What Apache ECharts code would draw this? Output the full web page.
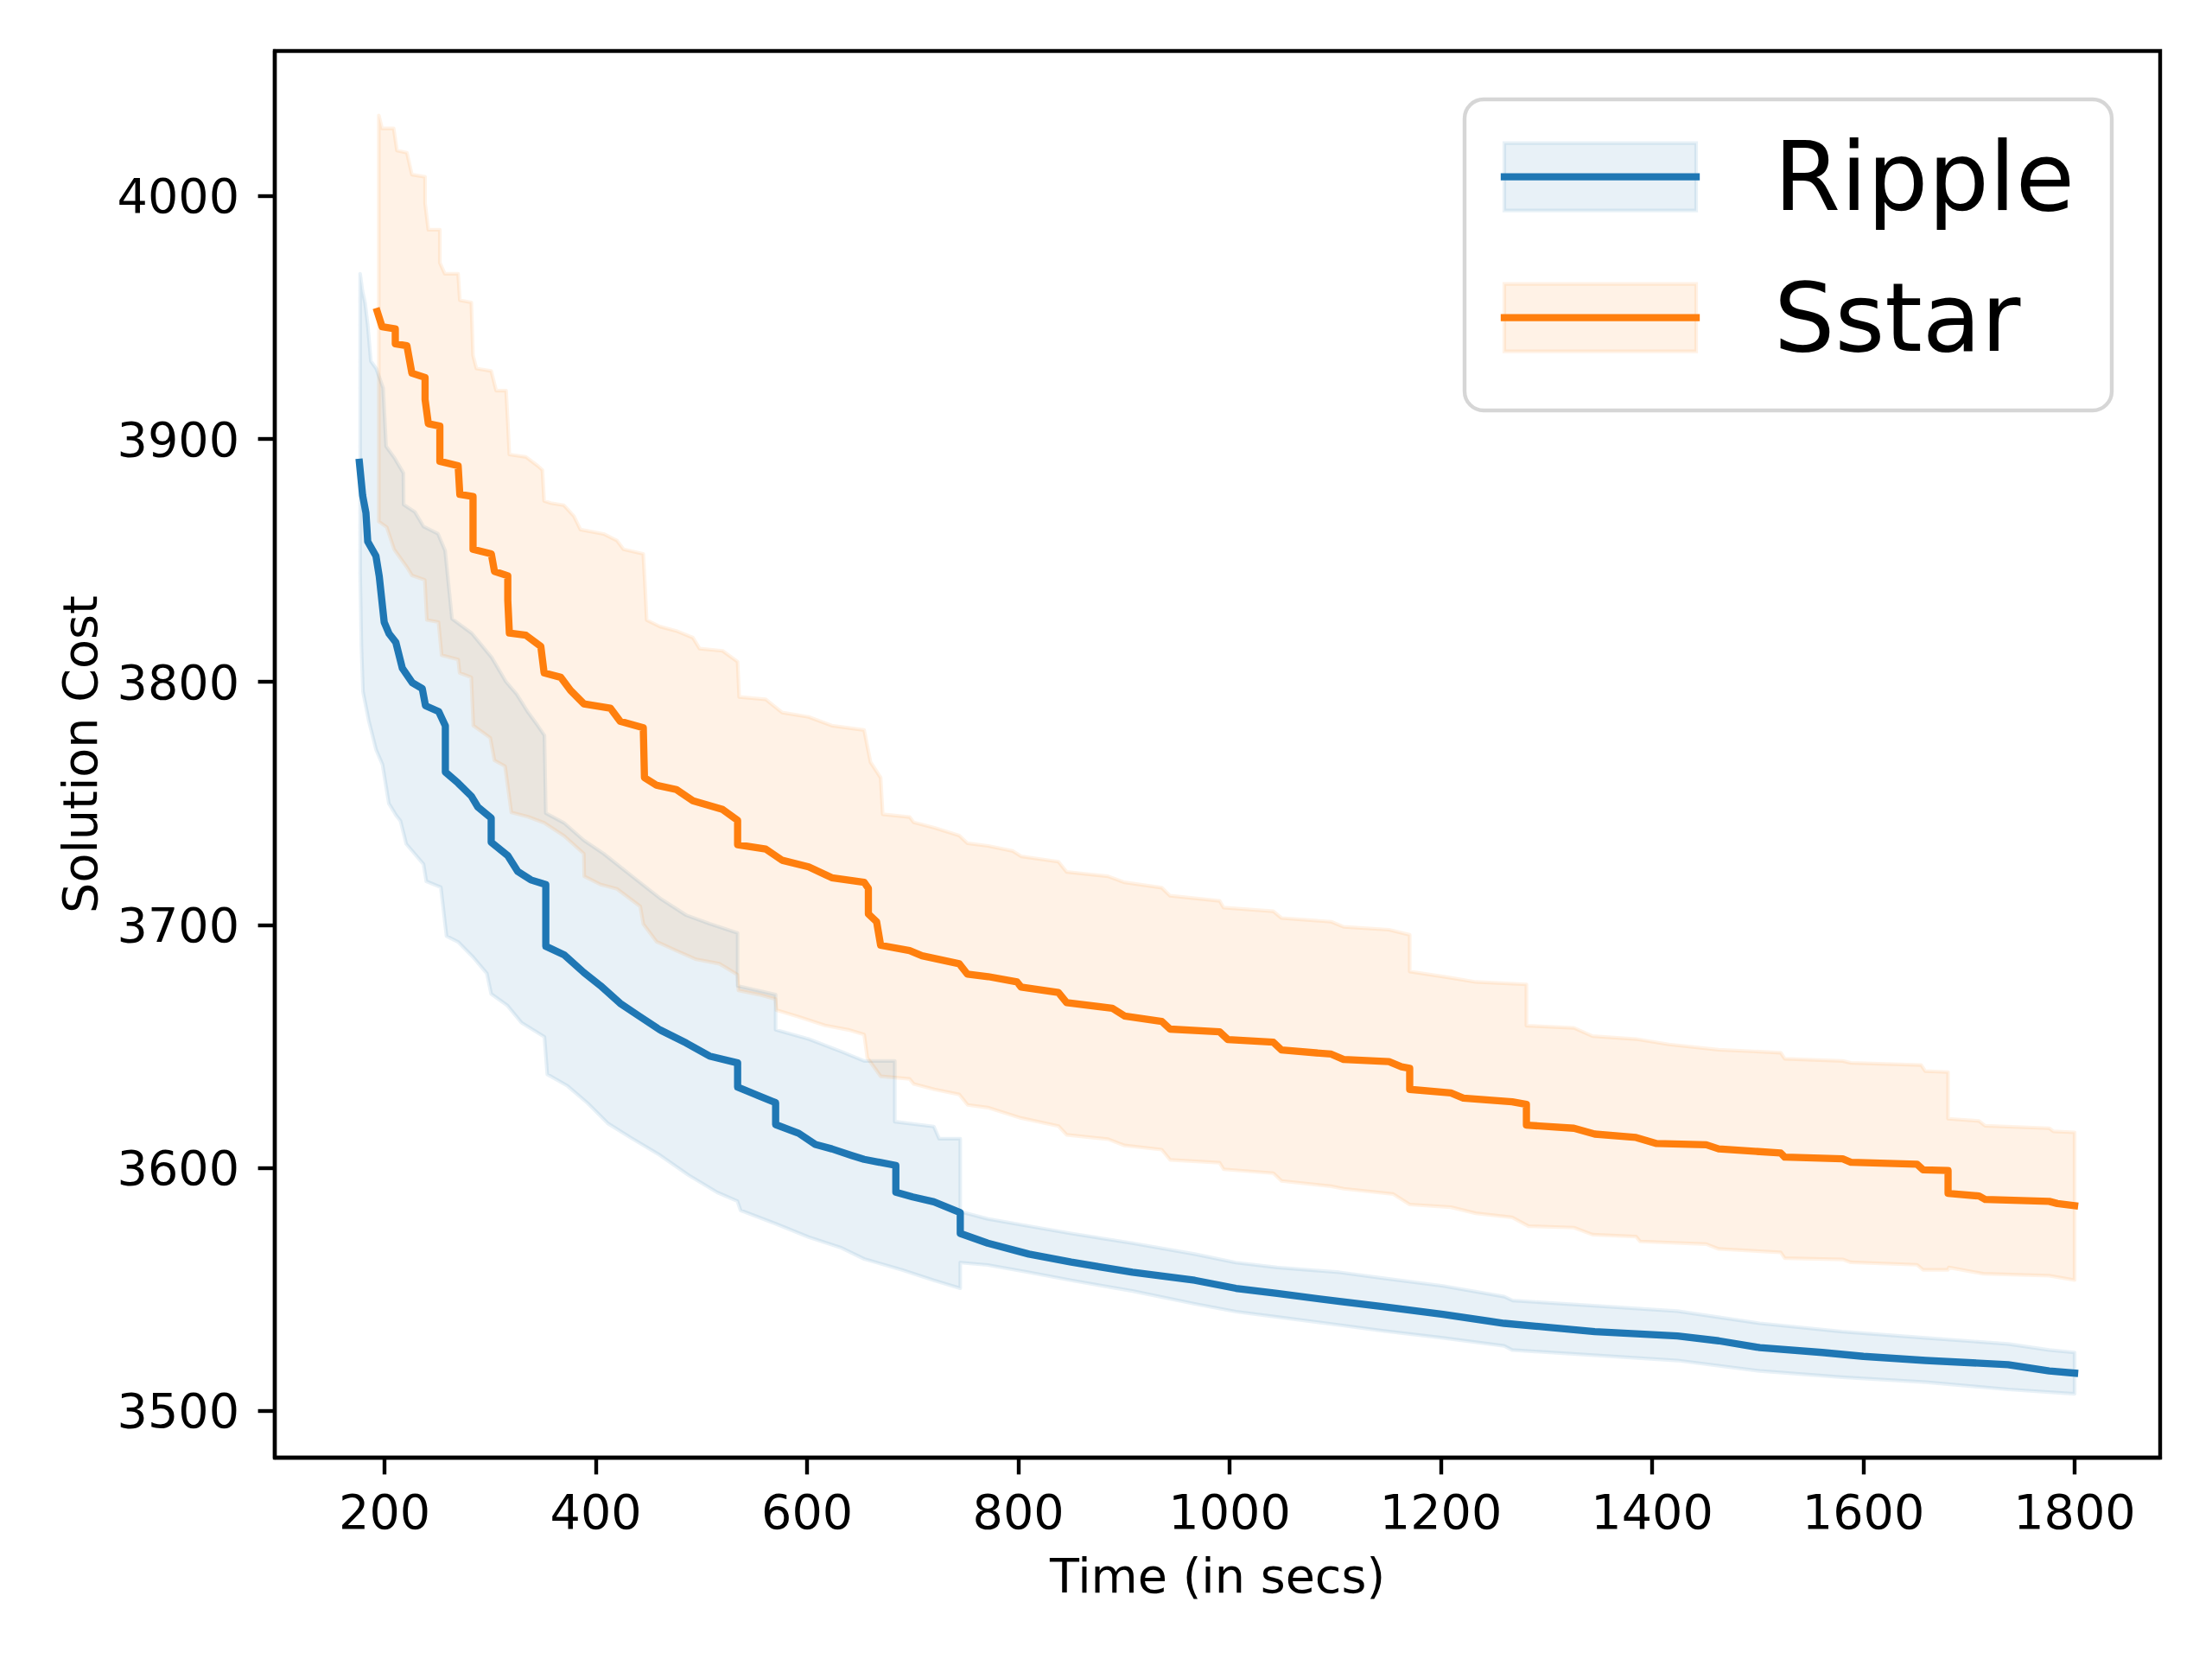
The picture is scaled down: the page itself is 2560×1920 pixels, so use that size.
<!DOCTYPE html>
<html>
<head>
<meta charset="utf-8">
<script src="https://cdn.jsdelivr.net/npm/echarts@6/dist/echarts.min.js"></script>
<style>
html,body{margin:0;padding:0;background:#fff;}
#chart{width:2560px;height:1920px;}
</style>
</head>
<body>
<div id="chart"></div>
<script>
// ---- Data (time in secs, solution cost) ----
const xTicks = [200, 400, 600, 800, 1000, 1200, 1400, 1600, 1800];
const yTicks = [3500, 3600, 3700, 3800, 3900, 4000];
const seriesNames = ['Ripple', 'Sstar'];

const rippleMean = [
  [176.1,3890.4],[179.2,3876.7],[182.3,3869.6],[184,3857.8],[191.8,3851.8],[194.9,3843.5],[199.6,3824.6],
  [204.3,3819.8],[210.6,3816.3],[216.8,3805.6],[226.2,3799.7],[235.6,3797.3],[238.7,3790.2],[251.2,3787.8],
  [257.5,3781.9],[257.5,3762.9],[269.5,3758.4],[282.1,3753],[288.3,3748.5],[300.9,3744],[300.9,3734],
  [316.6,3728.5],[326,3722],[338.5,3718.5],[352.6,3716.6],[352.6,3691.2],[369.8,3687.7],[388.6,3680.4],
  [404.3,3675],[423,3667.7],[441.8,3662.2],[460.6,3656.8],[485.5,3651.4],[507.6,3646],[534.2,3643.2],
  [534.2,3633.2],[554.5,3629.6],[570.2,3626.8],[570.2,3617.8],[592.1,3614.2],[607.8,3609.6],[623.4,3607.8],
  [642.1,3605.1],[654,3603.5],[684,3601],[684,3590],[700,3588],[720,3586],[745,3581.6],[745,3573],
  [771,3569],[810,3564.5],[850,3561.2],[908,3557],[967,3553.7],[1006,3550.4],[1045,3548.3],[1104,3545],
  [1143,3543],[1202,3539.7],[1260,3536],[1345.7,3532.6],[1424,3530.8],[1463,3528.8],[1502,3526],
  [1561,3524],[1600,3522.4],[1659,3520.7],[1737,3519],[1776,3516.4],[1800,3515.5]
];
const rippleUpper = [
  [176.8,3968],[179,3961],[181.5,3956],[184,3947],[187,3932],[192,3929],[198.6,3921],[201.4,3897],
  [209.6,3892],[212.3,3890],[217.8,3886],[218,3873],[228.6,3870],[236.8,3864],[250.5,3861],[257.3,3854],
  [263.8,3826],[282.6,3820],[301.5,3810],[315,3800],[325,3795],[335,3788],[345,3782],[351.3,3778],
  [352.6,3746],[369.8,3742],[388.6,3734.8],[407.4,3729.3],[438.7,3718.5],[460.6,3711],[485.5,3704],
  [507.6,3700.5],[534.2,3696.7],[534.2,3674.9],[570.2,3671.3],[570.2,3656.8],[601.5,3653],[632.7,3647.8],
  [654,3644],[683,3644],[683,3619],[720,3617],[725,3612],[745,3612],[745,3582],[771,3579],[810,3576],
  [850,3573],[908,3569],[967,3564.5],[1006,3561],[1045,3559],[1104,3557],[1143,3554.7],[1202,3551.4],
  [1260,3547],[1268,3545.4],[1424,3541],[1502,3536],[1580,3532.6],[1659,3530],[1737,3527.5],[1776,3525],
  [1800,3524]
];
const rippleLower = [
  [176.8,3845],[178,3815],[179.5,3796],[185,3784],[188.5,3778],[192,3772],[198,3766],[204,3750],[211,3745],
  [215,3742.8],[220.5,3733.3],[236.8,3725],[239.5,3717.9],[253.2,3715.5],[258.6,3695.4],[269.5,3693],
  [283.2,3687],[296.8,3680],[300.9,3671.6],[316,3666.9],[329.5,3659.8],[351.3,3653.9],[354,3638.5],
  [373.2,3633.7],[392.2,3626.6],[411.3,3618.3],[433.1,3612.4],[460.4,3605.3],[487.7,3597],[514.9,3589.9],
  [534,3586.3],[537,3582.5],[570.2,3577],[601.5,3571.5],
  [632.7,3567],[654,3562.5],[690,3558],[720,3553.7],[745,3550.4],[745,3561],[771,3560],[810,3557],
  [850,3553.7],[908,3549.3],[967,3544],[1006,3540.8],[1045,3538.6],[1104,3535.3],[1143,3533],[1202,3530],
  [1260,3526.7],[1267.5,3525],[1424,3520.7],[1502,3516.4],[1580,3513.8],[1659,3511.8],[1737,3508.8],
  [1800,3507]
];

const sstarMean = [
  [193,3952.5],[197.6,3946.2],[210.1,3945.3],[210.1,3939.2],[221.1,3938.4],[225.8,3927.1],[238.3,3925.3],
  [238.3,3916.3],[241.4,3906.3],[252.3,3905.3],[252.3,3890.8],[269.6,3889],[271.2,3877.2],[283.7,3876.3],
  [283.7,3854.6],[301,3852.7],[304,3845.5],[316.6,3843.7],[316.6,3833.7],[318.1,3820.1],[333.8,3819.2],
  [347.9,3814.6],[351,3803.7],[366.7,3801.9],[376,3796.5],[388.6,3791],[413.7,3789.2],[423,3783.8],
  [444.9,3781.1],[446,3760.6],[457.4,3757.5],[476.2,3755.7],[491.9,3751.1],[520,3747.5],[534.2,3743],
  [534.2,3733],[560.8,3731.2],[576.4,3726.6],[601.5,3723.9],[623.4,3719.4],[654,3717.5],[658,3715],
  [658,3704.5],[665.8,3701.3],[669.6,3691.6],[697,3689.4],[708.8,3687.3],[744,3684],[751.8,3679.7],
  [771.4,3678.7],[798.8,3676.5],[802.6,3674.4],[837.9,3672.2],[845.7,3668],[888.8,3665.7],[900.5,3662.5],
  [935.7,3660.3],[943.6,3657.1],[990.5,3656],[998.4,3652.8],[1041.4,3651.7],[1049.2,3648.5],[1096.2,3646.8],
  [1107.9,3644.6],[1150.9,3643.7],[1162.7,3641.6],[1170.5,3641],[1170.5,3632.3],[1209.5,3630.8],
  [1221.3,3628.7],[1267.5,3627.2],[1281,3626.1],[1281,3617.6],[1326,3616.3],[1345.7,3613.9],[1384.8,3612.5],
  [1404.3,3610],[1451.3,3609.5],[1463,3607.8],[1521.7,3606.1],[1525.6,3604.4],[1580.4,3603.7],[1588.2,3602.3],
  [1650.8,3601.5],[1656.6,3599.2],[1680.2,3598.9],[1680.2,3589.5],[1709.5,3588.4],[1715.3,3587],
  [1776,3586.2],[1783.7,3585.3],[1800,3584.4]
];
const sstarUpper = [
  [194.5,4033.2],[197.6,4027.8],[208.6,4027.8],[211.7,4018.7],[221.1,4017.8],[225.8,4008.8],[238.3,4007.9],
  [238.3,3997],[241.4,3986.1],[252.3,3986.1],[252.3,3972.5],[257,3968],[269.6,3968],[271.2,3957.1],
  [282.1,3956.2],[283.7,3934.4],[286.9,3929],[300.9,3928],[305.6,3919.9],[315,3919.9],[316.6,3907.1],
  [318.1,3893.6],[333.8,3892.6],[344.8,3889],[349.4,3887.2],[351,3874.5],[357.3,3873.6],[369.8,3872.7],
  [379.2,3868.2],[385.4,3862.7],[407.4,3860.9],[419.9,3858.2],[426.2,3854.6],[444.9,3852.7],[446.5,3840],
  [448.1,3825.5],[460.6,3822.8],[476.2,3821],[491.9,3818.2],[498.2,3813.7],[520,3812.8],[534.2,3808.3],
  [535.7,3793.8],[560.8,3792.8],[576.4,3787.4],[601.5,3785.6],[623.4,3782],[654,3780.2],[660,3767],
  [669.6,3760.6],[671.6,3745.5],[697,3744.4],[700.9,3742.2],[720.5,3740],[744,3736.8],[751.8,3733.6],
  [771.4,3732.5],[794.8,3730.4],[802.6,3728.2],[837.9,3726],[845.7,3721.8],[884.8,3720],[900.5,3717.5],
  [935.7,3715.3],[943.6,3712],[990.5,3709.9],[994.3,3707.1],[1041.4,3705.6],[1049.2,3702.8],[1096.2,3701.3],
  [1107.9,3699.2],[1150.9,3698],[1170.5,3695.9],[1170.5,3680.8],[1209.5,3678.2],[1233,3676.5],[1281,3675.5],
  [1281,3658.5],[1326,3657.6],[1343.6,3654.2],[1384.8,3653],[1416,3650.8],[1463,3648.6],[1521.7,3647.4],
  [1525.6,3644.9],[1580.4,3644],[1588.2,3643.2],[1654.7,3642.3],[1658.6,3639.8],[1680.2,3639.4],
  [1680.2,3620.2],[1709.5,3619.3],[1715.3,3617.3],[1776,3616.3],[1780,3615],[1800,3614.6]
];
const sstarLower = [
  [194.5,3866],[202,3863.7],[209,3854.6],[221,3847.3],[226,3843.8],[238,3842],[240,3825.5],[251,3824.6],
  [254,3811],[269.6,3809.2],[271,3803.7],[282,3801.9],[284,3782],[300,3777],[304,3767.7],[314,3765.3],
  [320,3746.3],[335.8,3744.5],[351,3742],[370,3736.6],[388.6,3729.3],[389,3720],[404,3716.7],[420,3714.8],
  [442,3707.6],[445,3700.3],[457.4,3693.1],[476,3689.4],[495,3685.8],[517,3684],[534,3679.5],[535,3673],
  [554.5,3671.3],[570,3669.5],[571,3664.9],[592,3662.2],[617,3658.6],[639,3656.8],[654,3654.9],[657,3645.3],
  [669.6,3637.7],[697,3636.6],[701,3634.5],[720.5,3632.3],[744,3630.2],[752,3625.9],[771,3624.8],
  [802.6,3620.5],[838,3617.2],[845.7,3613.6],[885,3611.8],[900.5,3609.2],[935.7,3607.5],[943.6,3603.3],
  [990.5,3602.1],[994.3,3599.4],[1041.4,3597.8],[1049.2,3594.6],[1096.2,3592.4],[1108,3591.4],[1155,3589.2],
  [1170.5,3584.9],[1209.5,3583.8],[1233,3581.3],[1267.5,3579.6],[1283,3576],[1326,3575.4],[1343.6,3572.5],
  [1384.8,3571.7],[1388.6,3569.7],[1451.3,3568.6],[1463,3566.6],[1521.7,3565.2],[1525.6,3562.8],
  [1580.4,3562.3],[1588.2,3561.1],[1650.8,3560.1],[1656.6,3558],[1680,3558],[1681,3559],[1713.5,3556.4],
  [1776,3555.6],[1800,3553.8]
];

// ---- Styling ----
const BLUE = '#1f77b4', ORANGE = '#ff7f0e';
const BLUE_FILL = 'rgba(31,119,180,0.1)', ORANGE_FILL = 'rgba(255,127,14,0.1)';
const FONT = 'DejaVu Sans';
const TICK_FS = 55.6, LEG_FS = 111;

function bandRenderer(upper, lower, color) {
  return function (params, api) {
    const pts = upper.map(p => api.coord(p))
      .concat(lower.slice().reverse().map(p => api.coord(p)));
    return {
      type: 'polygon',
      shape: { points: pts },
      style: { fill: color, stroke: color, lineWidth: 4.2, lineJoin: 'round' },
      silent: true
    };
  };
}

const chart = echarts.init(document.getElementById('chart'), null, { renderer: 'svg', width: 2560, height: 1920 });

const legendX = 1695, legendY = 115, legendW = 749, legendH = 360;
const rows = [204.7, 367.7];
const legendGraphics = [
  { type: 'rect', shape: { x: legendX, y: legendY, width: legendW, height: legendH, r: 22 },
    style: { fill: 'rgba(255,255,255,0.8)', stroke: 'rgba(204,204,204,0.8)', lineWidth: 4.4 }, z: 100 }
];
[[BLUE, BLUE_FILL], [ORANGE, ORANGE_FILL]].forEach(([c, f], i) => {
  const cy = rows[i];
  legendGraphics.push(
    { type: 'rect', shape: { x: 1741, y: cy - 39, width: 222, height: 78 },
      style: { fill: f, stroke: f, lineWidth: 4.2 }, z: 101 },
    { type: 'line', shape: { x1: 1741, y1: cy, x2: 1963, y2: cy },
      style: { stroke: c, lineWidth: 8.33, lineCap: 'square' }, z: 102 },
    { type: 'text', x: 2053, y: cy,
      style: { text: seriesNames[i], fontSize: LEG_FS, fontFamily: FONT, fill: '#000',
               align: 'left', verticalAlign: 'middle' }, z: 102 }
  );
});

const plain = v => String(v);

const option = {
  animation: false,
  backgroundColor: '#fff',
  textStyle: { fontFamily: FONT, color: '#000' },
  grid: { left: 318, right: 60, top: 59, bottom: 233, show: true, borderColor: '#000', borderWidth: 4.4,
          backgroundColor: 'transparent', containLabel: false, outerBoundsMode: 'none' },
  xAxis: {
    type: 'value', min: 96, max: 1881,
    name: 'Time (in secs)', nameLocation: 'middle', nameGap: 108,
    nameTextStyle: { fontSize: TICK_FS, color: '#000', fontFamily: FONT },
    axisLine: { show: true, lineStyle: { color: '#000', width: 4.4 } },
    axisTick: { show: true, length: 19.4, lineStyle: { color: '#000', width: 4.4 }, customValues: xTicks },
    axisLabel: { show: true, customValues: xTicks, formatter: plain, fontSize: TICK_FS, color: '#000',
                 fontFamily: FONT, margin: 34 },
    splitLine: { show: false }
  },
  yAxis: {
    type: 'value', min: 3480.7, max: 4059.7,
    name: 'Solution Cost', nameLocation: 'middle', nameGap: 198, nameRotate: 90,
    nameTextStyle: { fontSize: TICK_FS, color: '#000', fontFamily: FONT },
    axisLine: { show: true, lineStyle: { color: '#000', width: 4.4 } },
    axisTick: { show: true, length: 19.4, lineStyle: { color: '#000', width: 4.4 }, customValues: yTicks },
    axisLabel: { show: true, customValues: yTicks, formatter: plain, fontSize: TICK_FS, color: '#000',
                 fontFamily: FONT, margin: 41 },
    splitLine: { show: false }
  },
  series: [
    { type: 'custom', name: 'Ripple band', coordinateSystem: 'cartesian2d', z: 1,
      renderItem: bandRenderer(rippleUpper, rippleLower, BLUE_FILL), data: [rippleUpper[0]], silent: true },
    { type: 'custom', name: 'Sstar band', coordinateSystem: 'cartesian2d', z: 1,
      renderItem: bandRenderer(sstarUpper, sstarLower, ORANGE_FILL), data: [sstarUpper[0]], silent: true },
    { type: 'line', name: seriesNames[0], data: rippleMean, showSymbol: false, symbol: 'none', z: 3,
      lineStyle: { color: BLUE, width: 8.33, cap: 'square', join: 'round' }, silent: true },
    { type: 'line', name: seriesNames[1], data: sstarMean, showSymbol: false, symbol: 'none', z: 4,
      lineStyle: { color: ORANGE, width: 8.33, cap: 'square', join: 'round' }, silent: true }
  ],
  graphic: { elements: legendGraphics }
};
chart.setOption(option);
</script>
</body>
</html>
